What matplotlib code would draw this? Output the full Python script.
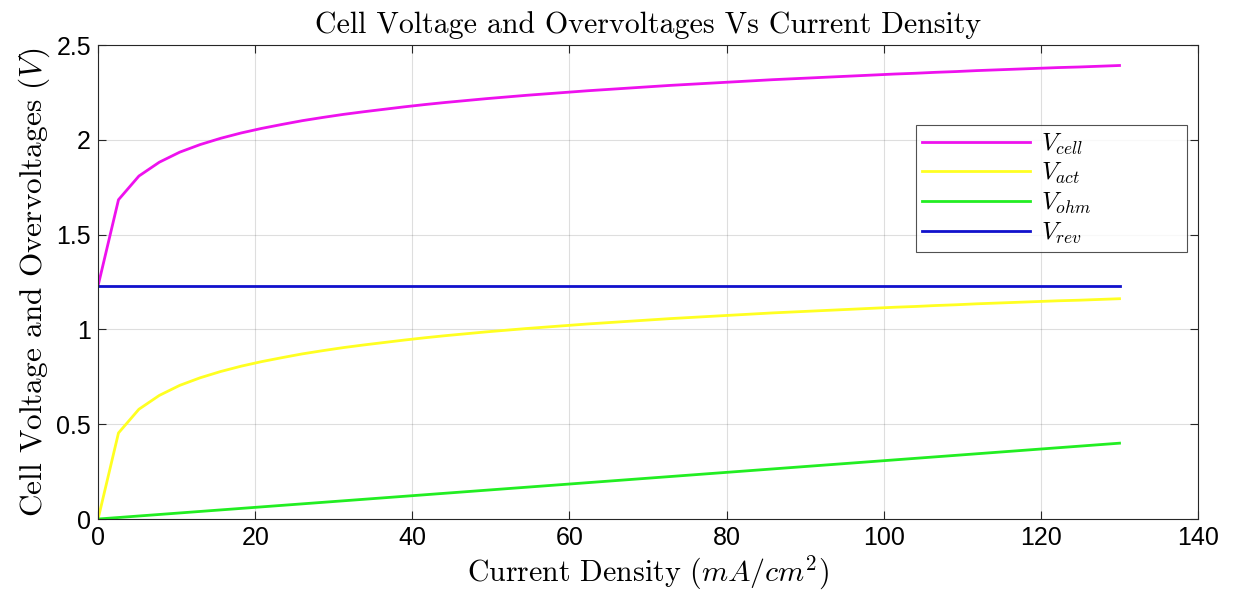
import matplotlib
matplotlib.use("Agg")
import matplotlib.pyplot as plt
import numpy as np

# current density samples (mA/cm^2), 0 to 130 in steps of 2.6
current_density = [0.0, 2.6, 5.2, 7.8, 10.4, 13.0, 15.6, 18.2, 20.8, 23.4,
                   26.0, 28.6, 31.2, 33.8, 36.4, 39.0, 41.6, 44.2, 46.8, 49.4,
                   52.0, 54.6, 57.2, 59.8, 62.4, 65.0, 67.6, 70.2, 72.8, 75.4,
                   78.0, 80.6, 83.2, 85.8, 88.4, 91.0, 93.6, 96.2, 98.8, 101.4,
                   104.0, 106.6, 109.2, 111.8, 114.4, 117.0, 119.6, 122.2, 124.8, 127.4,
                   130.0]

v_cell = [1.230, 1.684, 1.809, 1.882, 1.935, 1.975, 2.008, 2.036, 2.060, 2.081,
          2.101, 2.118, 2.134, 2.148, 2.161, 2.174, 2.186, 2.197, 2.207, 2.217,
          2.226, 2.235, 2.243, 2.251, 2.259, 2.266, 2.273, 2.280, 2.287, 2.293,
          2.299, 2.305, 2.311, 2.317, 2.322, 2.327, 2.332, 2.337, 2.342, 2.347,
          2.351, 2.356, 2.360, 2.365, 2.369, 2.373, 2.377, 2.381, 2.384, 2.388,
          2.392]

v_act = [0.000, 0.454, 0.579, 0.652, 0.705, 0.745, 0.778, 0.806, 0.830, 0.851,
         0.871, 0.888, 0.904, 0.918, 0.931, 0.944, 0.956, 0.967, 0.977, 0.987,
         0.996, 1.005, 1.013, 1.021, 1.029, 1.036, 1.043, 1.050, 1.057, 1.063,
         1.069, 1.075, 1.081, 1.087, 1.092, 1.097, 1.102, 1.107, 1.112, 1.117,
         1.121, 1.126, 1.130, 1.135, 1.139, 1.143, 1.147, 1.151, 1.154, 1.158,
         1.162]

v_ohm = [0.000, 0.008, 0.016, 0.024, 0.032, 0.040, 0.048, 0.056, 0.064, 0.072,
         0.080, 0.088, 0.096, 0.104, 0.112, 0.120, 0.128, 0.136, 0.144, 0.152,
         0.160, 0.168, 0.176, 0.184, 0.192, 0.200, 0.208, 0.216, 0.224, 0.232,
         0.240, 0.248, 0.256, 0.264, 0.272, 0.280, 0.288, 0.296, 0.304, 0.312,
         0.320, 0.328, 0.336, 0.344, 0.352, 0.360, 0.368, 0.376, 0.384, 0.392,
         0.400]

v_rev = [1.23] * len(current_density)

x_ticks = [0, 20, 40, 60, 80, 100, 120, 140]
y_ticks = [0, 0.5, 1, 1.5, 2, 2.5]
y_tick_labels = ["0", "0.5", "1", "1.5", "2", "2.5"]

plt.rcParams['mathtext.fontset'] = 'cm'
plt.rcParams['font.family'] = ['Liberation Sans', 'DejaVu Sans']

fig = plt.figure(figsize=(12.35, 6.01), dpi=100)
ax = fig.add_axes([0.0794, 0.1364, 0.8907, 0.7887])

lw = 2.0
ax.plot(current_density, v_cell, color='#ee11ee', lw=lw, label=r'$V_{cell}$')
ax.plot(current_density, v_act, color='#ffff22', lw=lw, label=r'$V_{act}$')
ax.plot(current_density, v_ohm, color='#22ee22', lw=lw, label=r'$V_{ohm}$')
ax.plot(current_density, v_rev, color='#1111cc', lw=lw, label=r'$V_{rev}$')

ax.set_xlim(0, 140)
ax.set_ylim(0, 2.5)
ax.set_xticks(x_ticks)
ax.set_yticks(y_ticks)
ax.set_yticklabels(y_tick_labels)
ax.tick_params(direction='in', top=True, right=True, labelsize=18,
               length=6, width=0.8, colors='#262626', labelcolor='black', pad=5)
ax.grid(True, color='#262626', alpha=0.15, lw=0.8)
for s in ax.spines.values():
    s.set_color('#262626')
    s.set_linewidth(0.8)

ax.set_title('Cell Voltage and Overvoltages Vs Current Density',
             fontsize=21.5, family='cmr10', pad=9)
ax.set_xlabel(r'Current Density $(mA/cm^2)$', fontsize=21.5, family='cmr10', labelpad=3)
ax.set_ylabel(r'Cell Voltage and Overvoltages $(V)$', fontsize=22.5, family='cmr10', labelpad=3)

# MATLAB-style wide legend box: expand to a fixed width
leg = ax.legend(loc='upper left', bbox_to_anchor=(0.7436, 0.563, 0.2464, 0.268),
                mode='expand', fontsize=18, handlelength=4.3, frameon=True,
                fancybox=False, borderpad=0.25, labelspacing=0.18,
                handletextpad=0.45, borderaxespad=0)
leg.get_frame().set_edgecolor('#262626')
leg.get_frame().set_linewidth(0.8)

fig.savefig('out.png', dpi=100)
